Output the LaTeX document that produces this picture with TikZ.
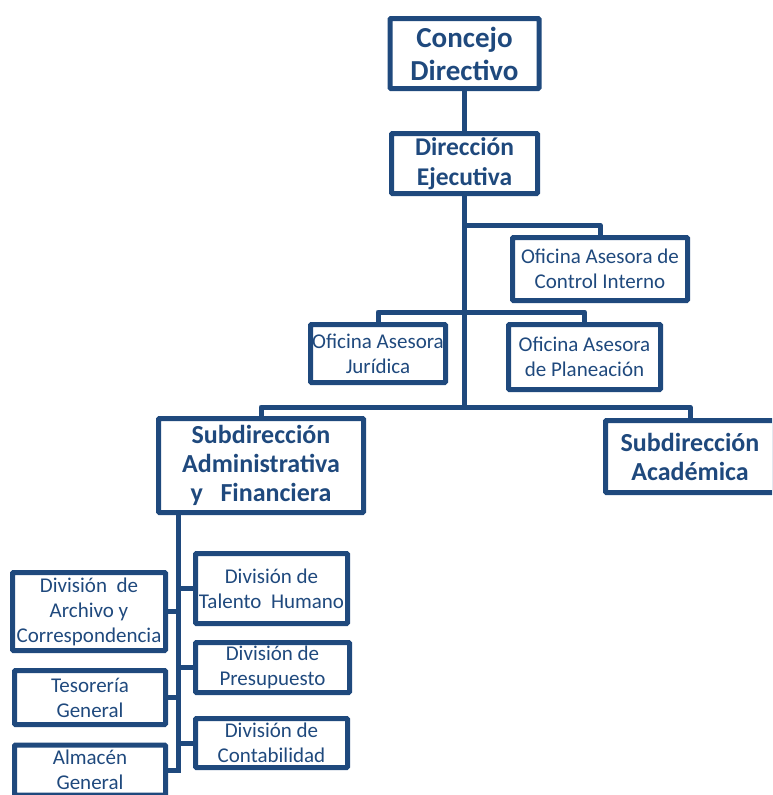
\documentclass[tikz,border=0pt]{standalone}
\usepackage{fontspec}
\setmainfont{Carlito}
\usepackage{xcolor}
\definecolor{azulorg}{RGB}{31,73,125}

\begin{document}
\begin{tikzpicture}[x=1pt,y=-1pt,
		unidad/.style={draw=azulorg,line width=5pt,text=azulorg,align=center,inner sep=0pt,rounded corners=1pt},
		mayor/.style={unidad,font=\bfseries\fontsize{29}{33}\selectfont},
		media/.style={unidad,font=\bfseries\fontsize{26}{29}\selectfont},
		menor/.style={unidad,font=\fontsize{21}{25}\selectfont},
		linea/.style={draw=azulorg,line width=5pt,line join=round}]
	\clip (0,0) rectangle (772,795);
	% direccion
	\node[mayor,minimum width=149pt,minimum height=70pt] (concejo) at (464.5,53.5) {Concejo\\Directivo};
	\node[media,font=\bfseries\fontsize{25.5}{30}\selectfont,minimum width=146pt,minimum height=60pt] (direccion) at (464.5,163.5) {Dirección\\Ejecutiva};
	% oficinas asesoras
	\node[menor,minimum width=175pt,minimum height=63pt] (control) at (600,269) {Oficina Asesora de\\Control Interno};
	\node[menor,minimum width=135pt,minimum height=58pt] (juridica) at (378,353.5) {Oficina Asesora\\Jurídica};
	\node[menor,minimum width=152pt,minimum height=65pt] (planeacion) at (584.5,357) {Oficina Asesora\\de Planeación};
	% subdirecciones
	\node[media,minimum width=205pt,minimum height=94pt] (subadm) at (261,465.5) {Subdirección\\Administrativa\\y\ \ \ Financiera};
	\node[media,minimum width=169pt,minimum height=72pt] (subacad) at (690,456.5) {Subdirección\\Académica};
	% divisiones
	\node[menor,minimum width=152pt,minimum height=70pt] (talento) at (271.5,588.5) {División de\\Talento\ \ Humano};
	\node[menor,minimum width=154pt,minimum height=50pt] (presupuesto) at (272.5,667.5) {División de\\Presupuesto};
	\node[menor,minimum width=152pt,minimum height=49pt] (contabilidad) at (271.5,743) {División de\\Contabilidad};
	\node[menor,minimum width=153pt,minimum height=78pt] (archivo) at (89,611.5) {División\ \ de\\Archivo y\\Correspondencia};
	\node[menor,minimum width=151pt,minimum height=54pt] (tesoreria) at (90,697.5) {Tesorería\\General};
	\node[menor,minimum width=151pt,minimum height=50pt] (almacen) at (90,770) {Almacén\\General};

	\coordinate (j1) at (464.5,225);
	\coordinate (j2) at (464.5,312);
	\coordinate (j3) at (464.5,407);
	\coordinate (eje) at (178,773);

	\draw[linea] (concejo.south) -- (direccion.north);
	\draw[linea] (direccion.south) -- (j3);
	\draw[linea] (j1) -| (control.north);
	\draw[linea] (juridica.north) |- (j2) -| (planeacion.north);
	\draw[linea] (subadm.north) |- (j3) -| (subacad.north);
	\draw[linea] (subadm.south -| eje) -- (eje);
	\foreach \n in {talento,presupuesto,contabilidad}
		\draw[linea] (\n.west -| eje) -- (\n.west);
	\foreach \n in {archivo,tesoreria,almacen}
		\draw[linea] (\n.east -| eje) -- (\n.east);
\end{tikzpicture}
\end{document}
